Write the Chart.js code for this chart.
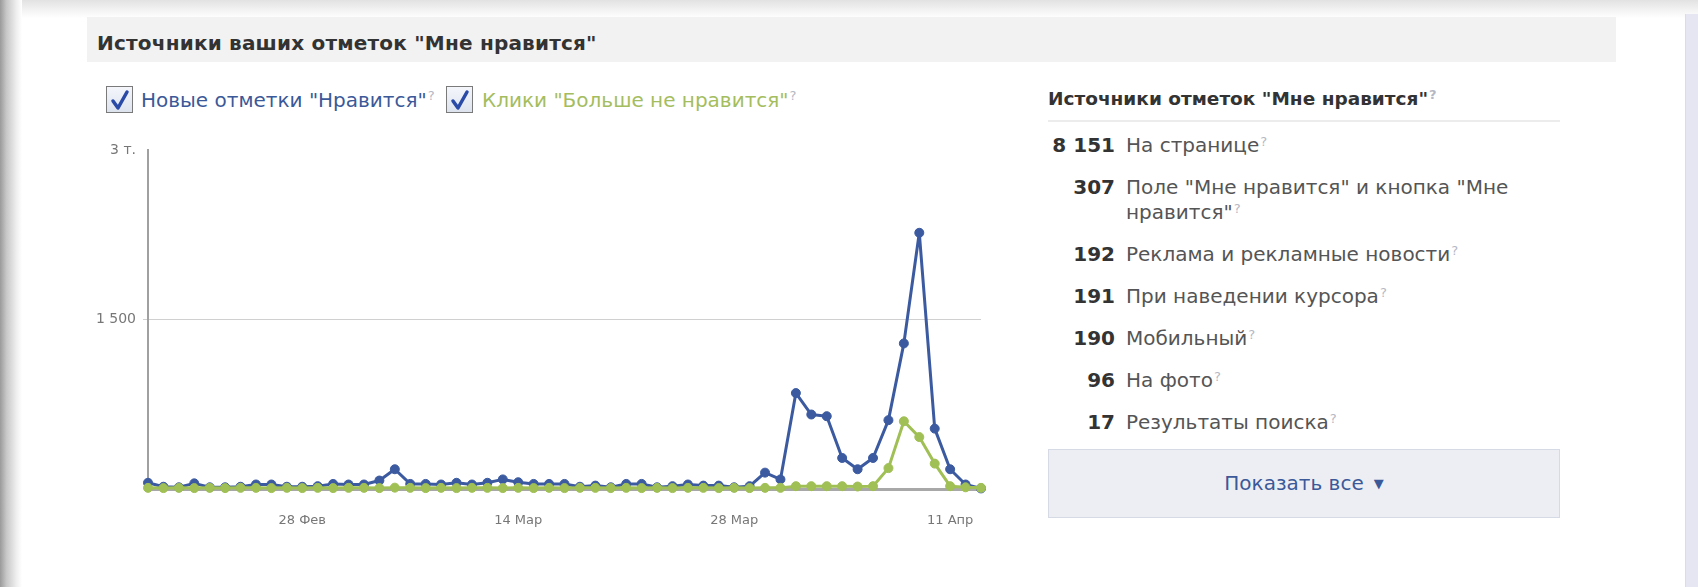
<!DOCTYPE html>
<html>
<head>
<meta charset="utf-8">
<script src="https://cdn.jsdelivr.net/npm/chart.js@4/dist/chart.umd.min.js"></script>
<style>
  html,body{margin:0;padding:0;width:1698px;height:587px;overflow:hidden;background:#fff;font-family:"DejaVu Sans",Verdana,sans-serif;}
  #topShadow{position:absolute;left:0;top:0;width:1698px;height:18px;background:linear-gradient(to bottom,#e2e2e2,#f4f4f4 60%,#fff);}
  #leftShadow{position:absolute;left:0;top:0;width:22px;height:587px;background:linear-gradient(to right,#9a9a9a,#c8c8c8 30%,#efefef 75%,#fff);}
  #rightStrip{position:absolute;left:1685px;top:14px;width:13px;height:573px;background:#e6e6f2;border-left:1px solid #dcdce8;}
  #header{position:absolute;left:87px;top:17px;width:1529px;height:45px;background:#f2f2f2;}
  #header span{position:absolute;left:10px;top:2px;line-height:48px;font-weight:bold;font-size:20px;color:#333;letter-spacing:0.2px;}
  .cb{position:absolute;width:27px;height:27px;border:1px solid #7a7a7a;background:linear-gradient(#f4f6fb,#dde3ee);box-sizing:border-box;}
  .cb svg{position:absolute;left:3px;top:2px;}
  .lg{position:absolute;font-size:20px;line-height:28px;white-space:nowrap;}
  sup.q{font-size:13px;color:#b4b8c4;vertical-align:top;position:relative;top:-4px;margin-left:1px;}
  #chartBox{position:absolute;left:60px;top:135px;width:945px;height:406px;}
  #panel{position:absolute;left:1048px;top:83px;width:512px;}
  #panelTitle{font-weight:bold;font-size:18.5px;color:#333;line-height:28px;padding-bottom:9px;border-bottom:2px solid #ececec;white-space:nowrap;}
  #panelTitle span{position:relative;top:2px;}
  .row{display:flex;margin-top:17px;font-size:20px;line-height:25px;}
  .row:first-of-type{margin-top:11px;}
  .num{width:67px;text-align:right;font-weight:bold;color:#333;flex:none;white-space:nowrap;}
  .lab{margin-left:11px;color:#555;width:410px;}
  #btn{position:absolute;left:1048px;top:449px;width:512px;height:69px;box-sizing:border-box;background:#eceef4;border:1px solid #d6dae4;text-align:center;line-height:67px;font-size:20px;color:#3b5998;}
  #btn .tri{font-size:13px;margin-left:10px;position:relative;top:-2px;}
</style>
</head>
<body>
<div id="topShadow"></div>
<div id="leftShadow"></div>
<div id="rightStrip"></div>
<div id="header"><span>Источники ваших отметок "Мне нравится"</span></div>

<div class="cb" style="left:106px;top:86px;"><svg width="20" height="22" viewBox="0 0 20 22"><path d="M3 12 L8 19 L17 3" stroke="#2a4aa8" stroke-width="3.5" fill="none" stroke-linecap="round" stroke-linejoin="round"/></svg></div>
<div class="lg" id="lg1" style="left:141px;top:86px;color:#3b5998;"></div>
<div class="cb" style="left:446px;top:86px;"><svg width="20" height="22" viewBox="0 0 20 22"><path d="M3 12 L8 19 L17 3" stroke="#2a4aa8" stroke-width="3.5" fill="none" stroke-linecap="round" stroke-linejoin="round"/></svg></div>
<div class="lg" id="lg2" style="left:482px;top:86px;color:#a4bd5e;"></div>

<div id="chartBox"><canvas id="c" width="945" height="406"></canvas></div>

<div id="panel">
  <div id="panelTitle"><span>Источники отметок "Мне нравится"<sup class="q">?</sup></span></div>
  <div id="rows"></div>
</div>
<div id="btn">Показать все<span class="tri">▼</span></div>

<script>
// ---- data ----
const categories = [
  "18 Фев","19 Фев","20 Фев","21 Фев","22 Фев","23 Фев","24 Фев","25 Фев","26 Фев","27 Фев","28 Фев",
  "1 Мар","2 Мар","3 Мар","4 Мар","5 Мар","6 Мар","7 Мар","8 Мар","9 Мар","10 Мар",
  "11 Мар","12 Мар","13 Мар","14 Мар","15 Мар","16 Мар","17 Мар","18 Мар","19 Мар","20 Мар",
  "21 Мар","22 Мар","23 Мар","24 Мар","25 Мар","26 Мар","27 Мар","28 Мар","29 Мар","30 Мар","31 Мар",
  "1 Апр","2 Апр","3 Апр","4 Апр","5 Апр","6 Апр","7 Апр","8 Апр","9 Апр","10 Апр","11 Апр","12 Апр","13 Апр"
];
const tickLabels = ["28 Фев","14 Мар","28 Мар","11 Апр"];
const yTickLabels = {1500:"1 500", 3000:"3 т."};
const seriesNames = ['Новые отметки "Нравится"', 'Клики "Больше не нравится"'];
const newLikes = [
  55,20,15,50,15,15,20,40,40,20,20,
  25,45,40,40,75,175,45,45,40,55,
  40,55,85,60,45,45,45,20,30,15,
  45,45,15,25,40,30,30,15,25,145,85,
  850,660,645,275,175,275,610,1290,2270,535,175,40,5
];
const unlikes = [
  10,8,10,8,10,8,10,10,8,10,8,
  10,8,10,10,8,12,10,8,10,8,
  10,10,8,10,8,10,8,10,10,8,
  10,8,10,8,10,10,8,10,8,10,10,
  25,25,25,25,22,25,185,600,460,225,25,15,10
];
const sourceNums = ["8 151","307","192","191","190","96","17"];
const sourceLabels = ["На странице",'Поле "Мне нравится" и кнопка "Мне нравится"',"Реклама и рекламные новости","При наведении курсора","Мобильный","На фото","Результаты поиска"];

// ---- html text ----
document.getElementById('lg1').innerHTML = seriesNames[0] + '<sup class="q">?</sup>';
document.getElementById('lg2').innerHTML = seriesNames[1] + '<sup class="q">?</sup>';
const rows = document.getElementById('rows');
sourceNums.forEach((n,i)=>{
  const r = document.createElement('div'); r.className='row';
  r.innerHTML = '<div class="num">'+n+'</div><div class="lab">'+sourceLabels[i]+'<sup class="q">?</sup></div>';
  rows.appendChild(r);
});

// ---- chart ----
const BLUE = '#3b5aa0', GREEN = '#a0bf54';
new Chart(document.getElementById('c'), {
  type:'line',
  data:{
    labels:categories,
    datasets:[
      {label:seriesNames[0], data:newLikes, borderColor:BLUE, backgroundColor:BLUE, pointBackgroundColor:BLUE, pointBorderColor:BLUE, borderWidth:3, borderJoinStyle:'round', pointRadius:4.5, pointBorderWidth:1, tension:0, order:1, clip:false},
      {label:seriesNames[1], data:unlikes, borderColor:GREEN, backgroundColor:GREEN, pointBackgroundColor:GREEN, pointBorderColor:GREEN, borderWidth:3, borderJoinStyle:'round', pointRadius:4.5, pointBorderWidth:1, tension:0, order:0, clip:false}
    ]
  },
  options:{
    responsive:false, animation:false, devicePixelRatio:1,
    layout:{padding:{top:10,right:10,left:0,bottom:0}},
    plugins:{legend:{display:false}, tooltip:{enabled:false}},
    scales:{
      x:{
        offset:false,
        grid:{display:false, drawTicks:false},
        border:{display:true, color:'#a8a8a8', width:3},
        ticks:{autoSkip:false, maxRotation:0, minRotation:0, padding:24, color:'#777', font:{family:'DejaVu Sans', size:13},
          callback:(v,i)=> tickLabels.includes(categories[i]) ? categories[i] : ''},
        afterFit:(s)=>{s.height=52;}
      },
      y:{
        min:0, max:3000,
        grid:{color:(ctx)=> ctx.tick && ctx.tick.value===1500 ? '#d0d0d0' : 'rgba(0,0,0,0)', lineWidth:1, tickLength:5, drawTicks:true},
        border:{display:true, color:'#a0a0a0', width:2},
        ticks:{stepSize:1500, padding:7, color:'#777', font:{family:'DejaVu Sans', size:14},
          callback:(v)=> yTickLabels[v] || ''},
        afterFit:(s)=>{s.width=88;}
      }
    }
  }
});
</script>
</body>
</html>
